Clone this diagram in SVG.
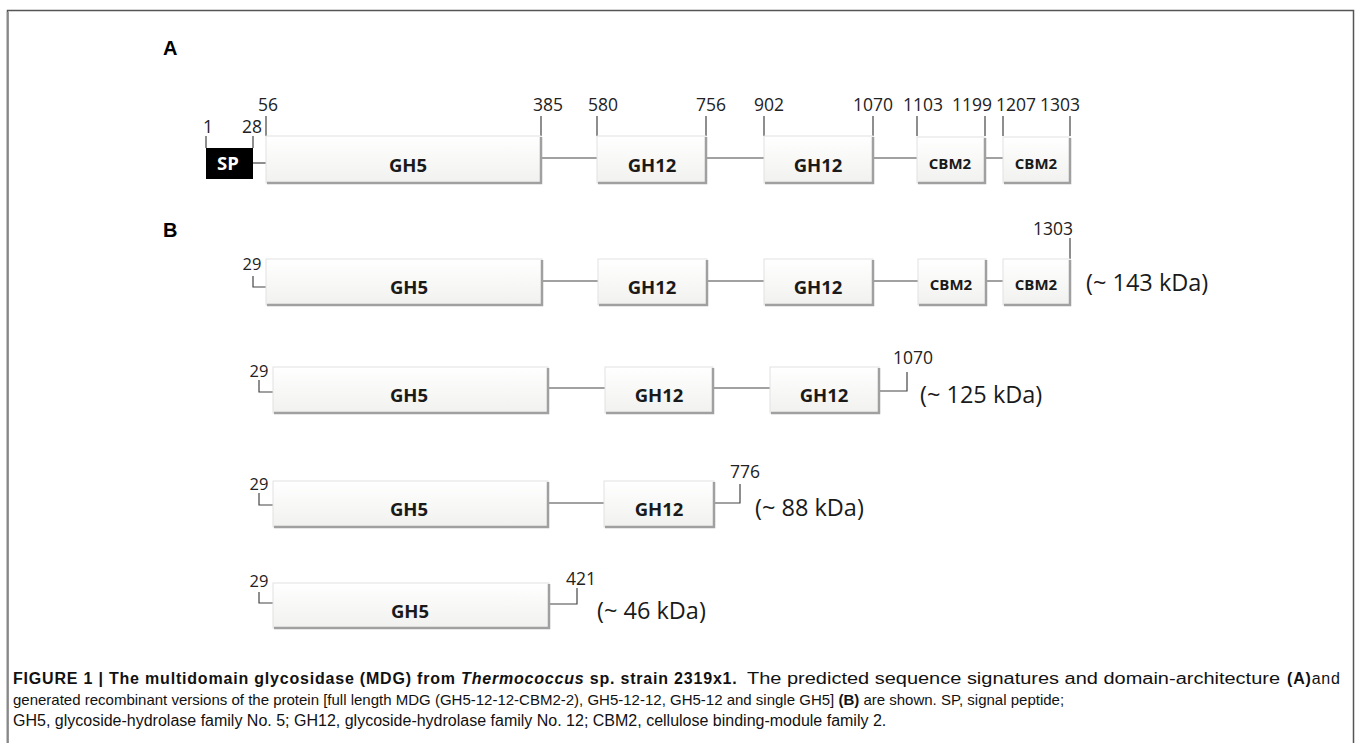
<svg xmlns="http://www.w3.org/2000/svg" width="1357" height="743" viewBox="0 0 1357 743">
<defs>
<linearGradient id="boxg" x1="0" y1="0" x2="0" y2="1">
<stop offset="0" stop-color="#ffffff"/>
<stop offset="1" stop-color="#f1f1ef"/>
</linearGradient>
<style>
.dom{fill:url(#boxg);stroke:#e2e2e2;stroke-width:1}
.shd{fill:none;stroke:#a0a0a0;stroke-width:2.5}
.lab{font-family:"Open Sans",sans-serif;font-weight:bold;font-size:18.5px;fill:#1a1a1a;text-anchor:middle}
.cbm{font-family:"Open Sans",sans-serif;font-weight:bold;font-size:15px;fill:#1a1a1a;text-anchor:middle}
.num{font-family:"Open Sans",sans-serif;font-size:17.5px;fill:#222;text-anchor:middle}
.n29{font-family:"Open Sans",sans-serif;font-size:16.5px;fill:#222;text-anchor:middle}
.kda{font-family:"Open Sans",sans-serif;font-size:23.5px;fill:#1a1a1a}
.tick{fill:none;stroke:#444;stroke-width:1.2}
.link{fill:none;stroke:#444;stroke-width:1.2}
.pl{font-family:"Liberation Sans",Arial,sans-serif;font-weight:bold;font-size:20px;fill:#000}
.cap{font-family:"Liberation Sans",Arial,sans-serif;font-size:16px;fill:#111}
</style>
</defs>
<rect x="0" y="0" width="1357" height="743" fill="#ffffff"/>
<path d="M7.5 760 V10.5 H1353.5 V760" fill="none" stroke="#555" stroke-width="1.5"/>
<path d="M7.8 12 V760" stroke="#888" stroke-width="2" fill="none"/>

<text class="pl" x="163" y="55">A</text>
<text class="pl" x="163" y="237">B</text>

<g id="connectors">
<path class="link" d="M253 163 H266"/>
<path class="link" d="M542 158 H597 M707 158 H764 M873 158 H917 M985 158 H1003"/>
<path class="tick" d="M206 136 V148 M253 136 V148 M266 116 V136 M541 116 V136 M597 116 V136 M706 116 V136 M764 116 V136 M873 116 V136 M917 116 V136 M985 116 V136 M1003 116 V136 M1070 116 V136"/>
<path class="link" d="M542 281 H598 M707 281 H764 M873 281 H918 M986 281 H1003"/>
<path class="tick" d="M253 276 V287 H266 M1070 238 V259"/>
<path class="link" d="M548 388 H605 M713 388 H770"/>
<path class="tick" d="M259 380 V392 H273 M879 391 H907 V372"/>
<path class="link" d="M548 503 H604"/>
<path class="tick" d="M259 493 V505 H273 M714 503 H740 V484"/>
<path class="tick" d="M259 592 V603 H273 M549 604 H577 V588"/>
</g>

<g id="A-numbers">
<text class="num" x="208" y="133">1</text>
<text class="num" x="252" y="133">28</text>
<text class="num" x="268" y="111">56</text>
<text class="num" x="548" y="111">385</text>
<text class="num" x="603" y="111">580</text>
<text class="num" x="711" y="111">756</text>
<text class="num" x="769" y="111">902</text>
<text class="num" x="873" y="111">1070</text>
<text class="num" x="923" y="111">1103</text>
<text class="num" x="972" y="111">1199</text>
<text class="num" x="1016" y="111">1207</text>
<text class="num" x="1060" y="111">1303</text>
</g>

<g id="A-SP">
<rect x="206" y="148" width="47" height="31" fill="#000"/>
<text class="lab" x="228" y="170" style="fill:#fff">SP</text>
</g>
<g id="A-GH5">
<rect class="dom" x="266" y="136" width="275" height="47"/>
<path class="shd" d="M541 137 V183 H267"/>
<text class="lab" x="408" y="172">GH5</text>
</g>
<g id="A-GH12a">
<rect class="dom" x="597" y="136" width="109" height="47"/>
<path class="shd" d="M706 137 V183 H598"/>
<text class="lab" x="652" y="172">GH12</text>
</g>
<g id="A-GH12b">
<rect class="dom" x="764" y="136" width="109" height="47"/>
<path class="shd" d="M873 137 V183 H765"/>
<text class="lab" x="818" y="172">GH12</text>
</g>
<g id="A-CBM2a">
<rect class="dom" x="917" y="137" width="68" height="46"/>
<path class="shd" d="M985 138 V183 H918"/>
<text class="cbm" x="950" y="169">CBM2</text>
</g>
<g id="A-CBM2b">
<rect class="dom" x="1003" y="137" width="67" height="46"/>
<path class="shd" d="M1070 138 V183 H1004"/>
<text class="cbm" x="1036" y="169">CBM2</text>
</g>

<g id="B1">
<text class="n29" x="252" y="270">29</text>
<text class="num" x="1053" y="235">1303</text>
<rect class="dom" x="266" y="259" width="276" height="46"/>
<path class="shd" d="M542 260 V305 H267"/>
<text class="lab" x="409" y="294">GH5</text>
<rect class="dom" x="598" y="259" width="109" height="46"/>
<path class="shd" d="M707 260 V305 H599"/>
<text class="lab" x="652" y="294">GH12</text>
<rect class="dom" x="764" y="259" width="109" height="46"/>
<path class="shd" d="M873 260 V305 H765"/>
<text class="lab" x="818" y="294">GH12</text>
<rect class="dom" x="918" y="259" width="68" height="46"/>
<path class="shd" d="M986 260 V305 H919"/>
<text class="cbm" x="951" y="290">CBM2</text>
<rect class="dom" x="1003" y="259" width="67" height="46"/>
<path class="shd" d="M1070 260 V305 H1004"/>
<text class="cbm" x="1036" y="290">CBM2</text>
<text class="kda" x="1086" y="291">(~ 143 kDa)</text>
</g>

<g id="B2">
<text class="n29" x="259" y="377">29</text>
<text class="num" x="913" y="364">1070</text>
<rect class="dom" x="273" y="367" width="275" height="46"/>
<path class="shd" d="M548 368 V413 H274"/>
<text class="lab" x="409" y="402">GH5</text>
<rect class="dom" x="605" y="367" width="108" height="46"/>
<path class="shd" d="M713 368 V413 H606"/>
<text class="lab" x="659" y="402">GH12</text>
<rect class="dom" x="770" y="367" width="109" height="46"/>
<path class="shd" d="M879 368 V413 H771"/>
<text class="lab" x="824" y="402">GH12</text>
<text class="kda" x="920" y="403">(~ 125 kDa)</text>
</g>

<g id="B3">
<text class="n29" x="259" y="490">29</text>
<text class="num" x="745" y="478">776</text>
<rect class="dom" x="273" y="481" width="275" height="46"/>
<path class="shd" d="M548 482 V527 H274"/>
<text class="lab" x="409" y="516">GH5</text>
<rect class="dom" x="604" y="481" width="110" height="46"/>
<path class="shd" d="M714 482 V527 H605"/>
<text class="lab" x="659" y="516">GH12</text>
<text class="kda" x="755" y="516">(~ 88 kDa)</text>
</g>

<g id="B4">
<text class="n29" x="259" y="587">29</text>
<text class="num" x="581" y="585">421</text>
<rect class="dom" x="273" y="583" width="276" height="45"/>
<path class="shd" d="M549 584 V628 H274"/>
<text class="lab" x="410" y="618">GH5</text>
<text class="kda" x="597" y="619">(~ 46 kDa)</text>
</g>

<g id="caption">
<text class="cap" x="13" y="684" font-weight="bold" letter-spacing="0.8">FIGURE 1 | The multidomain glycosidase (MDG) from <tspan font-style="italic">Thermococcus</tspan> sp. strain 2319x1.</text>
<text class="cap" x="747" y="684" textLength="533" lengthAdjust="spacingAndGlyphs">The predicted sequence signatures and domain-architecture</text>
<text class="cap" x="1287" y="684" letter-spacing="0.8"><tspan font-weight="bold">(A)</tspan>and</text>
<text class="cap" x="13" y="705" style="font-size:15px">generated recombinant versions of the protein [full length MDG (GH5-12-12-CBM2-2), GH5-12-12, GH5-12 and single GH5] <tspan font-weight="bold">(B)</tspan> are shown. SP, signal peptide;</text>
<text class="cap" x="13" y="726">GH5, glycoside-hydrolase family No. 5; GH12, glycoside-hydrolase family No. 12; CBM2, cellulose binding-module family 2.</text>
</g>
</svg>
